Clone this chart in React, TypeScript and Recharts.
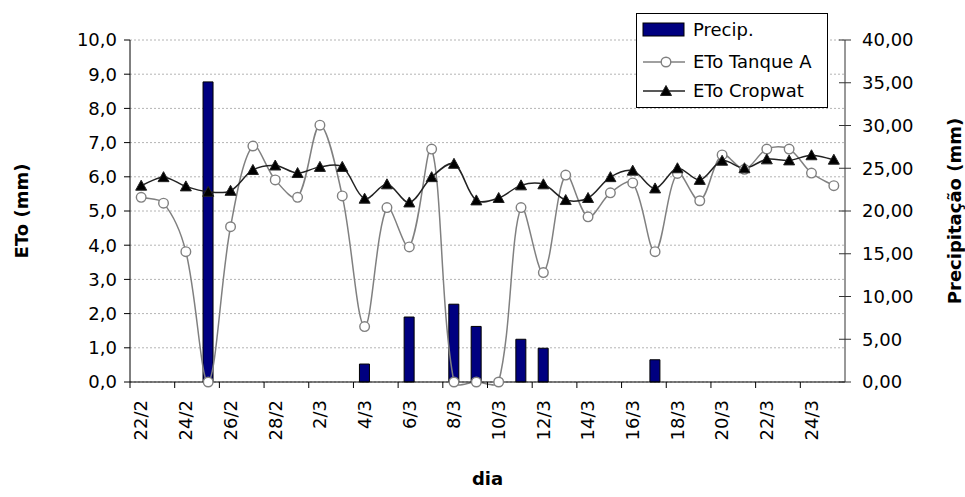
import React from "react";
import { Bar, CartesianGrid, ComposedChart, Legend, Line, XAxis, YAxis } from "recharts";

// dias de 22/2 a 25/3
const dias = [
  "22/2", "23/2", "24/2", "25/2", "26/2", "27/2", "28/2", "1/3",
  "2/3", "3/3", "4/3", "5/3", "6/3", "7/3", "8/3", "9/3",
  "10/3", "11/3", "12/3", "13/3", "14/3", "15/3", "16/3", "17/3",
  "18/3", "19/3", "20/3", "21/3", "22/3", "23/3", "24/3", "25/3",
];

// precipitação (mm), eixo da direita
const precip = [
  null, null, null, 35.1, null, null, null, null,
  null, null, 2.1, null, 7.6, null, 9.1, 6.5,
  null, 5.0, 3.95, null, null, null, null, 2.6,
  null, null, null, null, null, null, null, null,
];

// ETo tanque classe A (mm)
const etoTanque = [
  5.4, 5.23, 3.81, 0, 4.54, 6.9, 5.91, 5.4,
  7.51, 5.44, 1.62, 5.1, 3.95, 6.81, 0, 0,
  0, 5.1, 3.2, 6.05, 4.83, 5.53, 5.82, 3.81,
  6.1, 5.3, 6.64, 6.22, 6.81, 6.81, 6.11, 5.74,
];

// ETo Cropwat (mm)
const etoCropwat = [
  5.74, 5.99, 5.72, 5.56, 5.59, 6.2, 6.33, 6.11,
  6.29, 6.29, 5.36, 5.78, 5.25, 5.99, 6.38, 5.31,
  5.38, 5.75, 5.78, 5.32, 5.38, 5.99, 6.18, 5.66,
  6.25, 5.91, 6.47, 6.25, 6.51, 6.48, 6.63, 6.5,
];

const etoTicks = [0, 1, 2, 3, 4, 5, 6, 7, 8, 9, 10];
const precipTicks = [0, 5, 10, 15, 20, 25, 30, 35, 40];
const legendOrder = ["precip", "tanque", "cropwat"];

const data = dias.map((dia, i) => ({
  dia,
  precip: precip[i],
  tanque: etoTanque[i],
  cropwat: etoCropwat[i],
}));

const W = 965;
const H = 497;
const LEFT_W = 130;
const RIGHT_W = 120;
const band = (W - LEFT_W - RIGHT_W) / dias.length;
const FONT = 18;

// suavização parecida com a do Excel: tangentes pesadas pelo comprimento dos segmentos
function excelSmooth(context: any) {
  let pts: number[][] = [];
  const dist = (a: number[], b: number[]) => Math.hypot(b[0] - a[0], b[1] - a[1]);
  return {
    areaStart() {},
    areaEnd() {},
    lineStart() {
      pts = [];
    },
    point(x: number, y: number) {
      pts.push([+x, +y]);
    },
    lineEnd() {
      if (!pts.length) return;
      context.moveTo(pts[0][0], pts[0][1]);
      for (let i = 0; i < pts.length - 1; i++) {
        const p0 = pts[i - 1] || pts[i];
        const p1 = pts[i];
        const p2 = pts[i + 1];
        const p3 = pts[i + 2] || p2;
        const d01 = dist(p0, p1);
        const d12 = dist(p1, p2);
        const d23 = dist(p2, p3);
        const f1 = d01 + d12 > 0 ? d12 / (d01 + d12) / 3 : 0;
        const f2 = d12 + d23 > 0 ? d12 / (d12 + d23) / 3 : 0;
        context.bezierCurveTo(
          p1[0] + (p2[0] - p0[0]) * f1,
          p1[1] + (p2[1] - p0[1]) * f1,
          p2[0] - (p3[0] - p1[0]) * f2,
          p2[1] - (p3[1] - p1[1]) * f2,
          p2[0],
          p2[1]
        );
      }
    },
  };
}

const Triangle = ({ cx, cy }: any) => {
  if (cx == null || cy == null) return null;
  return (
    <path
      d={`M${cx},${cy - 5.5}L${cx + 5.5},${cy + 4.5}L${cx - 5.5},${cy + 4.5}Z`}
      fill="#000"
      stroke="#222"
      strokeWidth={1}
    />
  );
};

const DiaTick = ({ x, y, payload }: any) => (
  <g>
    <line x1={x - band / 2} x2={x - band / 2} y1={y - 18} y2={y - 12} stroke="#000" />
    <text
      x={x}
      y={y}
      transform={`rotate(-90 ${x} ${y})`}
      textAnchor="end"
      dy="0.35em"
      fontSize={FONT}
      fill="#000"
    >
      {payload.value}
    </text>
  </g>
);

const PrecipTick = ({ x, y, payload }: any) => (
  <g>
    <line x1={x - 23} x2={x - 11} y1={y} y2={y} stroke="#333" />
    <text x={x} y={y} dy="0.35em" textAnchor="start" fontSize={FONT} fill="#000">
      {payload.value.toFixed(2).replace(".", ",")}
    </text>
  </g>
);

const LegendBox = ({ payload }: any) => {
  const entries = [...(payload || [])].sort(
    (a: any, b: any) => legendOrder.indexOf(a.dataKey) - legendOrder.indexOf(b.dataKey)
  );
  return (
    <svg width={192} height={95} style={{ display: "block" }}>
      <rect x={0.5} y={0.5} width={191} height={94} fill="#fff" stroke="#000" />
      {entries.map((entry: any, i: number) => {
        const cy = [17, 49, 78][i];
        return (
          <g key={entry.value}>
            {entry.dataKey === "precip" && (
              <rect x={7} y={cy - 7} width={41} height={13} fill="#000080" stroke="#000" />
            )}
            {entry.dataKey === "tanque" && (
              <g>
                <line x1={7} x2={49} y1={cy} y2={cy} stroke="#808080" strokeWidth={1.5} />
                <circle cx={30} cy={cy} r={4.8} fill="#fff" stroke="#808080" strokeWidth={1.4} />
              </g>
            )}
            {entry.dataKey === "cropwat" && (
              <g>
                <line x1={7} x2={49} y1={cy} y2={cy} stroke="#222" strokeWidth={1.5} />
                <Triangle cx={30} cy={cy} />
              </g>
            )}
            <text x={57} y={cy} dy="0.35em" fontSize={FONT} fill="#000">
              {entry.value}
            </text>
          </g>
        );
      })}
      <rect x={0.5} y={0.5} width={191} height={94} fill="none" stroke="#000" />
    </svg>
  );
};

export default function App() {
  return (
    <div style={{ position: "absolute", left: 0, top: 0, fontFamily: "'DejaVu Sans', sans-serif", background: "#fff" }}>
      <ComposedChart width={W} height={H} data={data} margin={{ top: 40, right: 0, bottom: 0, left: 0 }}>
        <CartesianGrid yAxisId="left" vertical={false} stroke="#b4b4b4" strokeDasharray="2 2" />
        <XAxis
          dataKey="dia"
          height={115}
          interval={1}
          tickSize={6}
          tickMargin={12}
          tickLine={{ stroke: "none" }}
          tick={<DiaTick />}
          axisLine={{ stroke: "#000" }}
          label={{ value: "dia", position: "insideBottom", offset: 12, style: { fontWeight: "bold", fontSize: FONT, fill: "#000" } }}
        />
        <YAxis
          yAxisId="left"
          width={LEFT_W}
          domain={[0, 10]}
          ticks={etoTicks}
          tickSize={6}
          tickMargin={7}
          tick={{ fontSize: FONT, fill: "#000" }}
          tickLine={{ stroke: "#000" }}
          axisLine={{ stroke: "#000" }}
          tickFormatter={(v: number) => v.toFixed(1).replace(".", ",")}
          label={{ value: "ETo (mm)", angle: -90, position: "insideLeft", offset: 22, style: { fontWeight: "bold", fontSize: FONT, fill: "#000", textAnchor: "middle" } }}
        />
        <YAxis
          yAxisId="right"
          orientation="right"
          width={RIGHT_W}
          domain={[0, 40]}
          ticks={precipTicks}
          tickSize={6}
          tickMargin={11}
          tickLine={{ stroke: "none" }}
          tick={<PrecipTick />}
          axisLine={{ stroke: "#333" }}
          label={{ value: "Precipitação (mm)", angle: -90, position: "insideRight", offset: 10, style: { fontWeight: "bold", fontSize: FONT, fill: "#000", textAnchor: "middle" } }}
        />
        <Legend
          layout="vertical"
          align="center"
          verticalAlign="middle"
          content={<LegendBox />}
          wrapperStyle={{ left: 636, top: 13, width: 192, height: 95 }}
        />
        <Bar
          yAxisId="right"
          dataKey="precip"
          name="Precip."
          barSize={10}
          fill="#000080"
          stroke="#000"
          strokeWidth={1}
          isAnimationActive={false}
        />
        <Line
          yAxisId="left"
          dataKey="tanque"
          name="ETo Tanque A"
          type={excelSmooth as any}
          stroke="#808080"
          strokeWidth={1.5}
          dot={{ r: 4.8, fill: "#fff", stroke: "#808080", strokeWidth: 1.4 }}
          activeDot={false}
          isAnimationActive={false}
        />
        <Line
          yAxisId="left"
          dataKey="cropwat"
          name="ETo Cropwat"
          type={excelSmooth as any}
          stroke="#222"
          strokeWidth={1.5}
          dot={<Triangle />}
          activeDot={false}
          isAnimationActive={false}
        />
      </ComposedChart>
    </div>
  );
}
